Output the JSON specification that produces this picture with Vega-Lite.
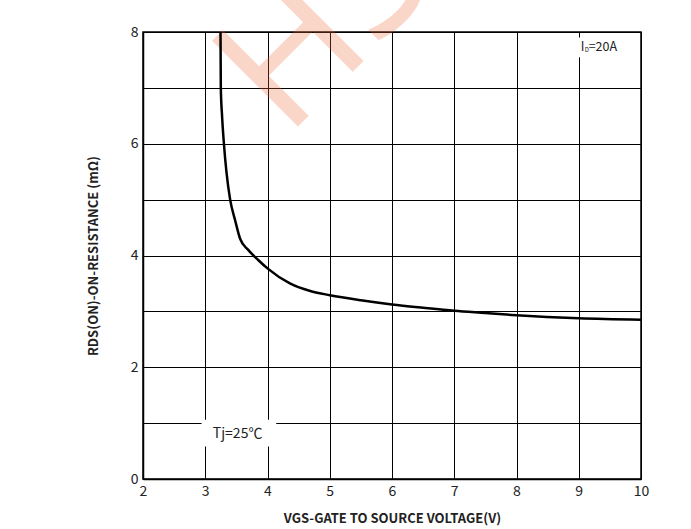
{
  "$schema": "https://vega.github.io/schema/vega-lite/v6.json",
  "width": 498,
  "height": 447,
  "autosize": {"type": "none"},
  "padding": {"left": 143, "top": 32, "right": 50, "bottom": 50},
  "background": "white",
  "config": {
    "view": {"stroke": "#000", "strokeWidth": 1.5},
    "font": "Noto Sans CJK SC",
    "axis": {
      "grid": true,
      "gridColor": "#000",
      "gridOpacity": 1,
      "gridWidth": 1,
      "domainColor": "#000",
      "domainWidth": 1.5,
      "ticks": false,
      "labelFlush": false,
      "labelFont": "Noto Sans CJK SC",
      "labelFontSize": 14,
      "labelColor": "#222",
      "titleFont": "Noto Sans CJK SC",
      "titleFontSize": 13,
      "titleFontWeight": "bold",
      "titleColor": "#222"
    }
  },
  "datasets": {
    "curve": [
      {"vgs": 3.245, "r": 8.0},
      {"vgs": 3.25, "r": 7.0},
      {"vgs": 3.27, "r": 6.5},
      {"vgs": 3.30, "r": 6.0},
      {"vgs": 3.34, "r": 5.5},
      {"vgs": 3.40, "r": 5.0},
      {"vgs": 3.48, "r": 4.63},
      {"vgs": 3.56, "r": 4.30},
      {"vgs": 3.69, "r": 4.10},
      {"vgs": 3.85, "r": 3.92},
      {"vgs": 4.0, "r": 3.77},
      {"vgs": 4.36, "r": 3.50},
      {"vgs": 4.7, "r": 3.36},
      {"vgs": 5.0, "r": 3.29},
      {"vgs": 5.5, "r": 3.20},
      {"vgs": 6.0, "r": 3.125},
      {"vgs": 6.5, "r": 3.065},
      {"vgs": 7.0, "r": 3.01},
      {"vgs": 7.5, "r": 2.97},
      {"vgs": 8.0, "r": 2.93},
      {"vgs": 9.0, "r": 2.875},
      {"vgs": 10.0, "r": 2.85}
    ],
    "boxes": [
      {"x1": 8.95, "x2": 9.75, "y1": 7.55, "y2": 7.9},
      {"x1": 2.94, "x2": 4.14, "y1": 0.58, "y2": 1.06}
    ],
    "id": [{"x": 9.031, "y": 7.66}],
    "tj": [{"x": 3.52, "y": 0.74, "t": "Tj=25℃"}],
    "wm": [{"x": 4.3, "y": 6.1, "t": "HS"}]
  },
  "layer": [
    {
      "data": {"name": "wm"},
      "mark": {"type": "text", "align": "left", "baseline": "alphabetic", "angle": 315, "fontSize": 170, "font": "Noto Sans", "color": "#ee6a3c", "opacity": 0.27},
      "encoding": {
        "x": {"field": "x", "type": "quantitative", "scale": {"domain": [2, 10], "nice": false, "zero": false},
          "axis": {"values": [2, 3, 4, 5, 6, 7, 8, 9, 10], "format": "d", "labelPadding": 5, "titlePadding": 14, "title": "VGS-GATE TO SOURCE VOLTAGE(V)"}},
        "y": {"field": "y", "type": "quantitative", "scale": {"domain": [0, 8], "nice": false, "zero": false},
          "axis": {"values": [0, 1, 2, 3, 4, 5, 6, 7, 8], "format": "d", "labelExpr": "datum.value % 2 == 0 ? datum.label : ''", "labelPadding": 5, "titlePadding": 30, "title": "RDS(ON)-ON-RESISTANCE (mΩ)"}},
        "text": {"field": "t"}
      }
    },
    {
      "data": {"name": "boxes"},
      "mark": {"type": "rect", "fill": "white"},
      "encoding": {
        "x": {"field": "x1", "type": "quantitative"},
        "x2": {"field": "x2"},
        "y": {"field": "y1", "type": "quantitative"},
        "y2": {"field": "y2"}
      }
    },
    {
      "data": {"name": "curve"},
      "mark": {"type": "line", "color": "#000", "strokeWidth": 2.5, "interpolate": "monotone"},
      "encoding": {
        "x": {"field": "vgs", "type": "quantitative"},
        "y": {"field": "r", "type": "quantitative"}
      }
    },
    {
      "data": {"name": "id"},
      "mark": {"type": "text", "align": "left", "baseline": "alphabetic", "fontSize": 12.5, "color": "#222", "text": "I"},
      "encoding": {
        "x": {"field": "x", "type": "quantitative"},
        "y": {"field": "y", "type": "quantitative"}
      }
    },
    {
      "data": {"name": "id"},
      "mark": {"type": "text", "align": "left", "baseline": "alphabetic", "fontSize": 6, "dx": 4, "dy": 1, "color": "#222", "text": "D"},
      "encoding": {
        "x": {"field": "x", "type": "quantitative"},
        "y": {"field": "y", "type": "quantitative"}
      }
    },
    {
      "data": {"name": "id"},
      "mark": {"type": "text", "align": "left", "baseline": "alphabetic", "fontSize": 12.5, "dx": 8, "color": "#222", "text": "=20A"},
      "encoding": {
        "x": {"field": "x", "type": "quantitative"},
        "y": {"field": "y", "type": "quantitative"}
      }
    },
    {
      "data": {"name": "tj"},
      "mark": {"type": "text", "align": "center", "baseline": "alphabetic", "fontSize": 14, "color": "#222"},
      "encoding": {
        "x": {"field": "x", "type": "quantitative"},
        "y": {"field": "y", "type": "quantitative"},
        "text": {"field": "t"}
      }
    }
  ]
}
